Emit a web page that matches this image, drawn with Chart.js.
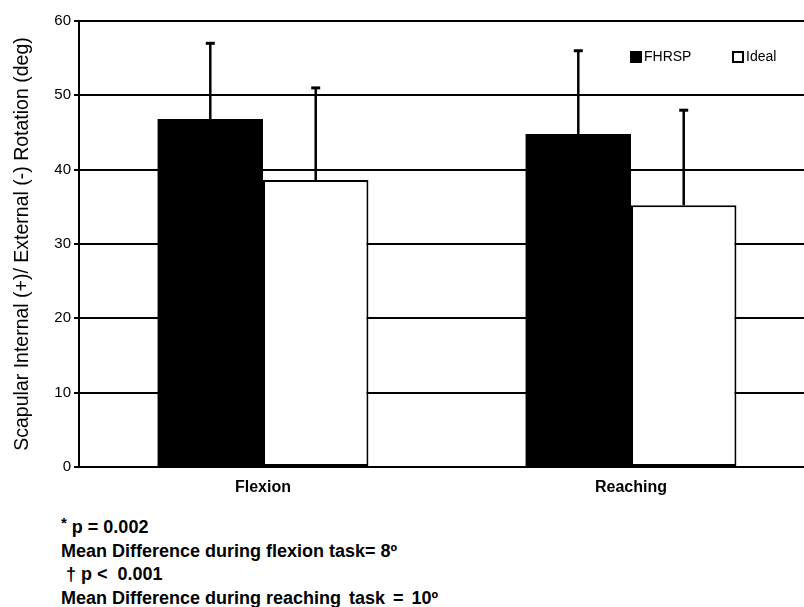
<!DOCTYPE html>
<html>
<head>
<meta charset="utf-8">
<script src="https://cdn.jsdelivr.net/npm/chart.js@4/dist/chart.umd.min.js"></script>
<style>
  html, body { margin: 0; padding: 0; background: #fff; overflow: hidden; width: 804px; height: 607px; }
  #wrap { position: absolute; left: 0; top: 0; width: 830px; height: 510px; }
  #notes { position: absolute; left: 61px; top: 516px; font-family: "Liberation Sans", Arial, sans-serif;
           font-weight: bold; font-size: 18px; line-height: 23.5px; color: #000; white-space: pre; }
  #notes sup { font-size: 15px; vertical-align: 5px; line-height: 0; }
  #notes .wide { word-spacing: 3px; }
</style>
</head>
<body>
<div id="wrap"><canvas id="c"></canvas></div>
<div id="notes"><div><sup>*</sup> p = 0.002</div><div>Mean Difference during flexion task= 8º</div><div> † p &lt;  0.001</div><div>Mean Difference during <span class="wide">reaching task = 10º</span></div></div>
<script>
const categories = ["Flexion", "Reaching"];
const seriesNames = ["FHRSP", "Ideal"];
const fhrspMeans = [46.8, 44.8];
const idealMeans = [38.6, 35.2];
const fhrspSD = [10.2, 11.2];
const idealSD = [12.4, 12.8];
const yTicks = [0, 10, 20, 30, 40, 50, 60];
const yTitle = "Scapular Internal (+)/ External (-) Rotation (deg)";

const FONT = "'Liberation Sans', Arial, sans-serif";

const errorBars = {
  id: 'errorBars',
  afterDatasetsDraw(chart) {
    const ctx = chart.ctx;
    const yScale = chart.scales.y;
    chart.data.datasets.forEach((ds, di) => {
      const meta = chart.getDatasetMeta(di);
      meta.data.forEach((bar, i) => {
        const top = yScale.getPixelForValue(ds.data[i] + ds.sd[i]);
        ctx.save();
        ctx.strokeStyle = '#000';
        ctx.lineWidth = 2.5;
        ctx.beginPath();
        ctx.moveTo(bar.x, bar.y);
        ctx.lineTo(bar.x, top);
        ctx.stroke();
        ctx.lineWidth = 3;
        ctx.beginPath();
        ctx.moveTo(bar.x - 4.5, top);
        ctx.lineTo(bar.x + 4.5, top);
        ctx.stroke();
        ctx.restore();
      });
    });
  }
};

const customLegend = {
  id: 'customLegend',
  afterDraw(chart) {
    const ctx = chart.ctx;
    const xs = [631, 733];
    const y = 52;
    ctx.save();
    ctx.font = "14px " + FONT;
    ctx.textBaseline = 'middle';
    chart.data.datasets.forEach((ds, i) => {
      ctx.fillStyle = ds.backgroundColor;
      ctx.strokeStyle = '#000';
      ctx.lineWidth = 2;
      ctx.fillRect(xs[i], y, 10, 10);
      ctx.strokeRect(xs[i], y, 10, 10);
      ctx.fillStyle = '#000';
      ctx.fillText(ds.label, xs[i] + 13, y + 5.5);
    });
    ctx.restore();
  }
};

new Chart(document.getElementById('c'), {
  type: 'bar',
  data: {
    labels: categories,
    datasets: [
      { label: seriesNames[0], data: fhrspMeans, sd: fhrspSD, backgroundColor: '#000', borderColor: '#000', borderWidth: 0 },
      { label: seriesNames[1], data: idealMeans, sd: idealSD, backgroundColor: '#fff', borderColor: '#000', borderWidth: 2, borderSkipped: false }
    ]
  },
  options: {
    responsive: true,
    maintainAspectRatio: false,
    animation: false,
    devicePixelRatio: 1,
    layout: { padding: { left: 0, top: 21, right: 15, bottom: 3 } },
    datasets: { bar: { categoryPercentage: 0.573, barPercentage: 1.0 } },
    plugins: { legend: { display: false }, tooltip: { enabled: false } },
    scales: {
      x: {
        grid: { display: false, drawTicks: false },
        border: { display: true, color: '#000', width: 2 },
        ticks: { color: '#000', font: { family: FONT, size: 16, weight: 'bold' }, padding: 11 },
        afterFit(s) { s.height = 40; }
      },
      y: {
        min: 0, max: 60,
        afterBuildTicks(s) { s.ticks = yTicks.map(v => ({ value: v })); },
        grid: { color: '#000', lineWidth: 2, tickLength: 5, tickColor: '#000' },
        border: { display: true, color: '#000', width: 2 },
        ticks: { color: '#000', font: { family: FONT, size: 15 }, padding: 3 },
        title: { display: true, text: yTitle, color: '#000', font: { family: FONT, size: 19.5 }, padding: { top: 11, bottom: 0 } },
        afterFit(s) { s.width = 79; }
      }
    }
  },
  plugins: [errorBars, customLegend]
});
</script>
</body>
</html>
